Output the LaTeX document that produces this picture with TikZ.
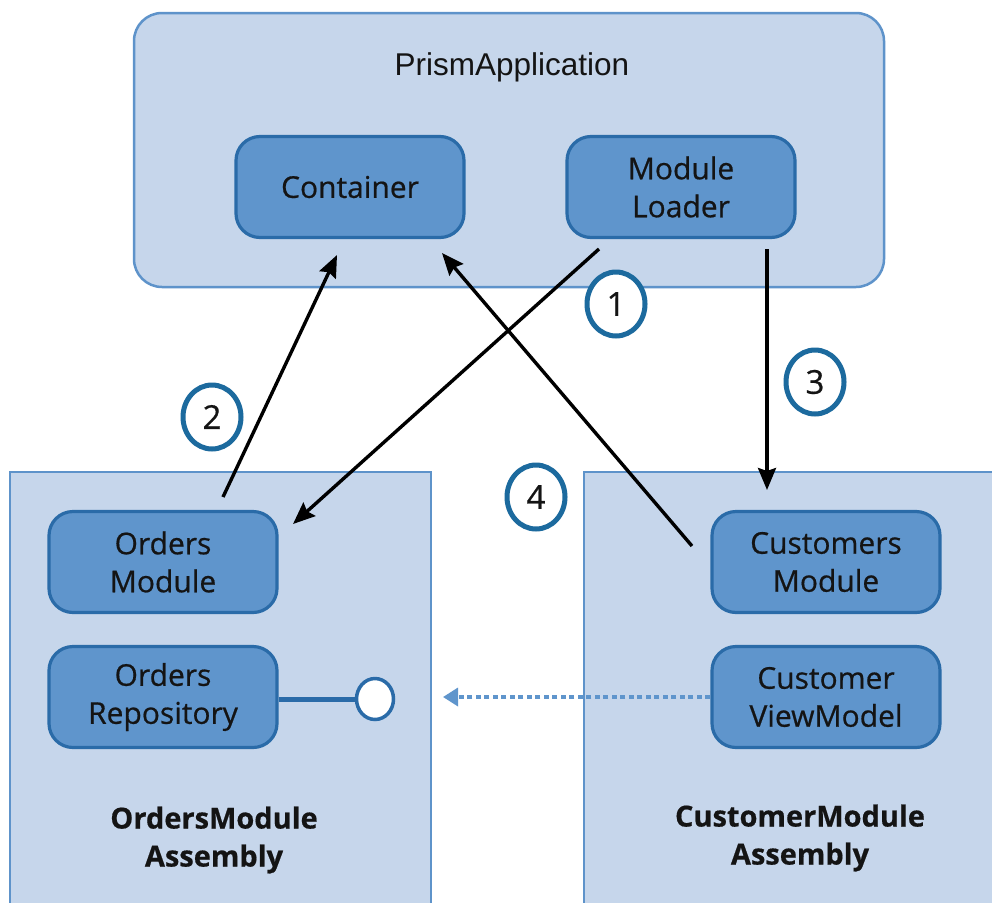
\documentclass[tikz,border=0pt]{standalone}
\usepackage{fontspec}
\setmainfont{Open Sans}[FakeBold=0.5]
\newfontfamily\labelfont{Open Sans}[FakeBold=0.6]
\newfontfamily\arialfont{Liberation Sans}
\usetikzlibrary{arrows.meta,shapes.geometric}
\definecolor{outerfill}{HTML}{C6D6EB}
\definecolor{outerline}{HTML}{5E93CA}
\definecolor{innerfill}{HTML}{5F95CC}
\definecolor{innerline}{HTML}{2A6BA8}
\definecolor{numline}{HTML}{1C6A9E}
\definecolor{txt}{HTML}{141414}
\tikzset{
  outerbox/.style={draw=outerline, fill=outerfill, line width=2.5pt},
  innerbox/.style={draw=innerline, fill=innerfill, line width=3.2pt, rounded corners=24pt,
    minimum width=228pt, minimum height=101pt, inner sep=0pt, align=center,
    text=txt, font=\labelfont\fontsize{30}{38}\selectfont},
  numcircle/.style={ellipse, draw=numline, fill=white, line width=5pt,
    minimum width=58pt, minimum height=64pt, inner sep=0pt, text=txt,
    font=\labelfont\fontsize{33}{34}\selectfont},
  arr/.style={draw=black, line width=3.4pt, -{Stealth[length=22pt,width=18pt,inset=3pt]}},
  depend/.style={draw=innerfill, line width=3.4pt, dash pattern=on 5pt off 3.5pt,
    -{Triangle[length=15pt,width=18pt]}},
  asmlabel/.style={align=center, text=txt, font=\bfseries\fontsize{29}{38}\selectfont}
}
\begin{document}
\begin{tikzpicture}[x=1pt,y=-1pt]
\useasboundingbox (0,0) rectangle (992,902);
\clip (0,0) rectangle (992,902);
\fill[white] (0,0) rectangle (992,902);

% assemblies
\path[outerbox] (10,472) rectangle (431,930);
\path[outerbox] (584,472) rectangle (1010,930);

% prism application
\node[outerbox, rounded corners=28pt, minimum width=750pt, minimum height=274pt, inner sep=0pt]
  (prism) at (509,150) {};
\node[text=txt, font=\arialfont\fontsize{31.5}{32}\selectfont] (prismlbl) at (512,67) {PrismApplication};

\node[innerbox] (container) at (350,187) {Container};
\node[innerbox] (loader) at (681,187) {Module\\Loader};

\node[innerbox] (ordmod) at (163,562) {Orders\\Module};
\node[innerbox] (ordrepo) at (163,697) {Orders\\Repository};

\node[innerbox] (custmod) at (826,562) {Customers\\Module};
\node[innerbox] (custvm) at (826,697) {Customer\\ViewModel};

\node[asmlabel] (ordasm) at (214,840) {OrdersModule\\Assembly};
\node[asmlabel] (custasm) at (800,838) {CustomerModule\\Assembly};

% lollipop interface
\node[ellipse, draw=innerline, fill=white, line width=3.5pt, minimum width=37pt, minimum height=41pt, inner sep=0pt]
  (iface) at (375,699) {};
\draw[draw=innerline, line width=5pt] (ordrepo.east |- iface.west) -- (iface.west);

% dependency
\coordinate (depend) at (443,697);
\draw[depend] (custvm.west) -- (depend);

% arrows
\coordinate (a2s) at (223,497);
\coordinate (a2e) at (337,255);
\coordinate (a1s) at (599,249);
\coordinate (a1e) at (293,524);
\coordinate (a3s) at (767,249);
\coordinate (a3e) at (767,490);
\coordinate (a4s) at (692,546);
\coordinate (a4e) at (442,253);
\draw[arr] (a2s) -- (a2e);
\draw[arr] (a1s) -- (a1e);
\draw[arr] (a3s) -- (a3e);
\draw[arr] (a4s) -- (a4e);

% step numbers
\node[numcircle] (n1) at (616,304) {1};
\node[numcircle] (n2) at (212,417) {2};
\node[numcircle] (n3) at (815,382) {3};
\node[numcircle] (n4) at (536,497) {4};
\end{tikzpicture}
\end{document}
